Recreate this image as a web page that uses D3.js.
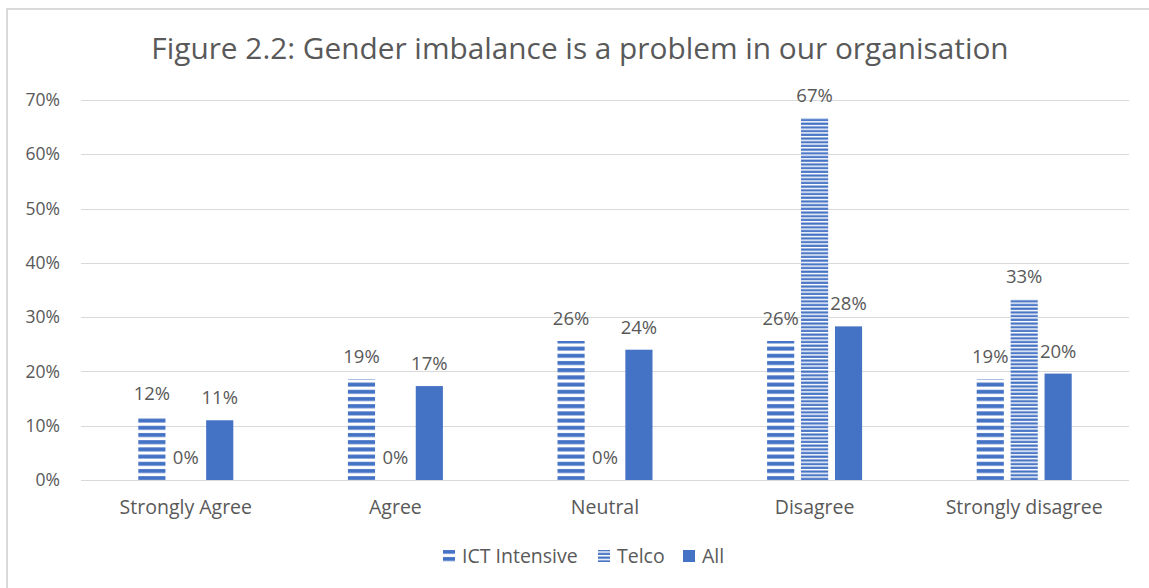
<!DOCTYPE html>
<html>
<head>
<meta charset="utf-8">
<script src="https://cdn.jsdelivr.net/npm/d3@7"></script>
<style>
  body { margin: 0; background: #fff; }
  svg text { font-family: "Open Sans", Lato, sans-serif; fill: #595959; }
</style>
</head>
<body>
<svg width="1149" height="588"></svg>
<script>
var categories = ['Strongly Agree', 'Agree', 'Neutral', 'Disagree', 'Strongly disagree'];
var seriesNames = ['ICT Intensive', 'Telco', 'All'];
var ictValues = [0.118, 0.186, 0.256, 0.256, 0.186];
var telcoValues = [0, 0, 0, 0.667, 0.333];
var allValues = [0.11, 0.173, 0.24, 0.283, 0.196];
var tickValues = [0, 0.1, 0.2, 0.3, 0.4, 0.5, 0.6, 0.7];

var series = [ictValues, telcoValues, allValues];
var fills = ['url(#ictPat)', 'url(#telcoPat)', '#4472C4'];

var svg = d3.select('svg');

// chart area border
svg.append('rect')
    .attr('x', 7).attr('y', 9)
    .attr('width', 1160).attr('height', 600)
    .attr('fill', 'none')
    .attr('stroke', '#d9d9d9')
    .attr('stroke-width', 2);

// stripe fills: thick dashes for ICT, thin lines for Telco
var defs = svg.append('defs');
var ict = defs.append('pattern')
    .attr('id', 'ictPat')
    .attr('patternUnits', 'userSpaceOnUse')
    .attr('width', 10).attr('height', 7.2);
ict.append('rect').attr('width', 10).attr('height', 7.2).attr('fill', '#fff');
ict.append('rect').attr('y', 1).attr('width', 10).attr('height', 4).attr('fill', '#4472C4');

var telco = defs.append('pattern')
    .attr('id', 'telcoPat')
    .attr('patternUnits', 'userSpaceOnUse')
    .attr('width', 10).attr('height', 3.7);
telco.append('rect').attr('width', 10).attr('height', 3.7).attr('fill', '#fff');
telco.append('rect').attr('y', 0.5).attr('width', 10).attr('height', 2.2).attr('fill', '#4472C4');

var x0 = d3.scaleBand()
    .domain(categories)
    .range([81, 1129]);

var x1 = d3.scaleBand()
    .domain(seriesNames)
    .range([-47.5, 47.5])
    .paddingInner(0.2);

var y = d3.scaleLinear()
    .domain([0, 0.7])
    .range([480, 100]);

// gridlines
svg.append('g')
    .selectAll('line')
    .data(tickValues)
    .enter()
    .append('line')
    .attr('x1', 81).attr('x2', 1129)
    .attr('y1', function(d){ return Math.round(y(d)) + 0.5; })
    .attr('y2', function(d){ return Math.round(y(d)) + 0.5; })
    .attr('stroke', '#d9d9d9')
    .attr('stroke-width', 1);

var yAxis = d3.axisLeft(y)
    .tickValues(tickValues)
    .tickFormat(d3.format('.0%'))
    .tickSize(0)
    .tickPadding(0);

svg.append('g')
    .attr('class', 'y axis')
    .attr('transform', 'translate(60,0)')
    .call(yAxis)
    .call(function(g){ g.select('.domain').remove(); })
    .selectAll('text')
    .style('font-size', '17.5px')
    .style('font-family', '"Open Sans", sans-serif')
    .style('fill', '#595959');

var xAxis = d3.axisBottom(x0).tickSize(0).tickPadding(0);

svg.append('g')
    .attr('class', 'x axis')
    .attr('transform', 'translate(0,500)')
    .call(xAxis)
    .call(function(g){ g.select('.domain').remove(); })
    .selectAll('text')
    .style('font-size', '19.5px')
    .style('font-family', '"Open Sans", sans-serif')
    .style('fill', '#595959');

// bars + labels
series.forEach(function(vals, si){
    var name = seriesNames[si];
    var g = svg.append('g');
    g.selectAll('rect')
        .data(vals)
        .enter()
        .append('rect')
        .attr('x', function(d, i){ return x0(categories[i]) + x0.bandwidth() / 2 + x1(name); })
        .attr('y', function(d){ return y(d); })
        .attr('width', x1.bandwidth())
        .attr('height', function(d){ return y(0) - y(d); })
        .attr('fill', fills[si]);
    g.selectAll('text')
        .data(vals)
        .enter()
        .append('text')
        .attr('x', function(d, i){ return x0(categories[i]) + x0.bandwidth() / 2 + x1(name) + x1.bandwidth() / 2; })
        .attr('y', function(d){ return y(d) - 16; })
        .attr('text-anchor', 'middle')
        .style('font-size', '18.5px')
        .text(function(d){ return Math.round(d * 100) + '%'; });
});

svg.append('text')
    .attr('x', 580).attr('y', 59)
    .attr('text-anchor', 'middle')
    .style('font-size', '29.8px')
    .text('Figure 2.2: Gender imbalance is a problem in our organisation');

// legend
var labelX = [462, 617, 702];
var legend = svg.append('g').attr('transform', 'translate(0,556)');
seriesNames.forEach(function(name, i){
    legend.append('rect')
        .attr('x', labelX[i] - 19).attr('y', -6)
        .attr('width', 12).attr('height', 12)
        .attr('fill', fills[i]);
    legend.append('text')
        .attr('x', labelX[i]).attr('y', 7)
        .style('font-size', '19.5px')
        .text(name);
});
</script>
</body>
</html>
